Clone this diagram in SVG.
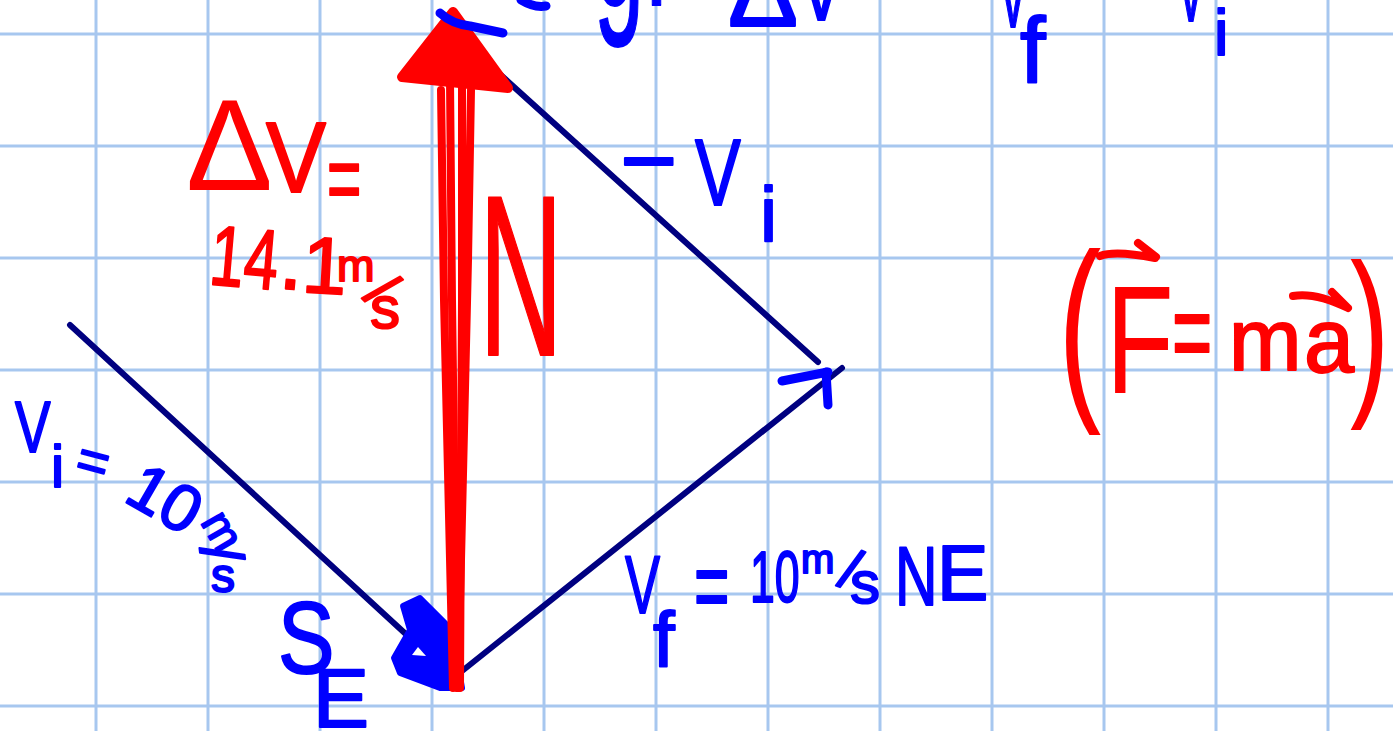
<svg xmlns="http://www.w3.org/2000/svg" width="1393" height="731" viewBox="0 0 1393 731">
  <style>
    .grid line { stroke: #a7c7ef; stroke-width: 3; }
    .navy { stroke: #000080; stroke-width: 6; stroke-linecap: round; fill: none; }
    .rs { stroke: #ff0000; stroke-width: 8; stroke-linecap: round; stroke-linejoin: round; fill: none; }
    .bs { stroke: #0000ff; stroke-width: 9; stroke-linecap: round; stroke-linejoin: round; fill: none; }
    text { font-family: "Liberation Sans", Arial, sans-serif; stroke-linejoin: round; }
    .r { fill: #ff0000; stroke: #ff0000; stroke-width: 2; }
    .b { fill: #0000ff; stroke: #0000ff; stroke-width: 2; }
    .big { stroke-width: 0; }
  </style>
  <rect width="1393" height="731" fill="#ffffff"/>
  <g id="grid" class="grid">
    <line x1="96" y1="0" x2="96" y2="731"/>
    <line x1="208" y1="0" x2="208" y2="731"/>
    <line x1="320" y1="0" x2="320" y2="731"/>
    <line x1="432" y1="0" x2="432" y2="731"/>
    <line x1="544" y1="0" x2="544" y2="731"/>
    <line x1="656" y1="0" x2="656" y2="731"/>
    <line x1="768" y1="0" x2="768" y2="731"/>
    <line x1="880" y1="0" x2="880" y2="731"/>
    <line x1="992" y1="0" x2="992" y2="731"/>
    <line x1="1104" y1="0" x2="1104" y2="731"/>
    <line x1="1216" y1="0" x2="1216" y2="731"/>
    <line x1="1328" y1="0" x2="1328" y2="731"/>
    <line x1="0" y1="34" x2="1393" y2="34"/>
    <line x1="0" y1="146" x2="1393" y2="146"/>
    <line x1="0" y1="258" x2="1393" y2="258"/>
    <line x1="0" y1="370" x2="1393" y2="370"/>
    <line x1="0" y1="482" x2="1393" y2="482"/>
    <line x1="0" y1="594" x2="1393" y2="594"/>
    <line x1="0" y1="706" x2="1393" y2="706"/>
  </g>

  <g id="connectors">
    <path id="vi-line" class="navy" d="M70,325 L434,660"/>
    <path id="vf-line" class="navy" d="M442,687 L842,368"/>
    <path id="neg-vi-line" class="navy" d="M462,40 L818,362"/>
    <g id="vf-head">
      <path class="bs" d="M782,381 L828,372" stroke-width="10"/>
      <path class="bs" d="M826,372 L828,405" stroke-width="8"/>
    </g>
    <g id="vi-head">
      <path d="M420,598 L452,630 L462,688 L440,688 L400,673 L394,658 L410,630 L403,606 Z" fill="#0000ff" stroke="#0000ff" stroke-width="6" stroke-linejoin="round"/>
      <path d="M412,655 L418,647 L426,656 Z" fill="#ffffff"/>
    </g>
    <g id="dv-arrow">
      <path class="rs" d="M453,688 L444,300 L441,90"/>
      <path class="rs" d="M457,688 L452,300 L450,80"/>
      <path class="rs" d="M460,688 L462,300 L462,85"/>
      <path class="rs" d="M458,688 L468,260 L471,90"/>
      <path d="M453,12 L402,77 L508,88 Z" fill="#ff0000" stroke="#ff0000" stroke-width="10" stroke-linejoin="round"/>
    </g>
  </g>

  <g id="top-equation">
    <path class="bs" d="M440,13 Q452,24 470,26 L503,33"/>
    <path class="bs" d="M521,0 Q534,8 546,6" stroke-width="8"/>
    <text class="b" transform="translate(594,5) scale(0.45,1)" font-size="200">g:</text>
    <text class="b" x="728" y="26" font-size="105">Δ</text>
    <text class="b" transform="translate(798,20) scale(0.7,1)" font-size="100">V</text>
    <text class="b" transform="translate(998,27) scale(0.45,1)" font-size="100">V</text>
    <text class="b" x="1020" y="82" font-size="92">f</text>
    <text class="b" transform="translate(1176,21) scale(0.45,1)" font-size="100">V</text>
    <text class="b" x="1214" y="55" font-size="65">i</text>
  </g>

  <g id="label-dv">
    <text class="r big" x="186" y="190" font-size="130">Δ</text>
    <text class="r" transform="translate(266,192) scale(0.9,1)" font-size="100">V</text>
    <text class="r" transform="translate(327,211) scale(0.62,1)" font-size="95">=</text>
    <text class="r" transform="translate(208,284) rotate(5) scale(0.72,1)" font-size="85">14</text>
    <text class="r" transform="translate(278,288) rotate(5)" font-size="85">.</text>
    <text class="r" transform="translate(301,292) rotate(3)" font-size="80">1</text>
    <text class="r" x="337" y="281" font-size="45">m</text>
    <text class="r" transform="translate(362,298) rotate(45)" font-size="58">/</text>
    <text class="r" x="370" y="328" font-size="60">s</text>
  </g>

  <g id="label-n">
    <text class="r" transform="translate(479,355) scale(0.51,1)" font-size="228">N</text>
  </g>

  <g id="label-neg-vi">
    <text class="b" x="620" y="194" font-size="98">−</text>
    <text class="b" transform="translate(695,205) scale(0.73,1)" font-size="94">V</text>
    <text class="b" x="760" y="242" font-size="77">i</text>
  </g>

  <g id="label-vi">
    <text class="b" transform="translate(15,452) scale(0.73,1)" font-size="73">V</text>
    <text class="b" x="51" y="487" font-size="59">i</text>
    <text class="b" transform="translate(73,475) rotate(15)" font-size="55">=</text>
    <text class="b" transform="translate(122,500) rotate(30)" font-size="66">10</text>
    <text class="b" transform="translate(200,522) rotate(60)" font-size="45">m</text>
    <text class="b" transform="translate(200,548) rotate(83)" font-size="60">/</text>
    <text class="b" x="211" y="592" font-size="48">s</text>
  </g>

  <g id="label-vf">
    <text class="b" transform="translate(625,613) scale(0.65,1)" font-size="81">V</text>
    <text class="b" x="653" y="667" font-size="78">f</text>
    <text class="b" transform="translate(694,620) scale(0.62,1)" font-size="98">=</text>
    <text class="b" transform="translate(750,602) scale(0.62,1)" font-size="72">10</text>
    <text class="b" x="801" y="573" font-size="40">m</text>
    <text class="b" transform="translate(836,585) rotate(21)" font-size="57">/</text>
    <text class="b" x="850" y="603" font-size="60">s</text>
    <text class="b" transform="translate(895,605) scale(0.7,1)" font-size="84">N</text>
    <text class="b" x="937" y="600" font-size="77">E</text>
  </g>

  <g id="label-se">
    <text class="b" transform="translate(278,673) scale(0.83,1)" font-size="102">S</text>
    <text class="b" x="313" y="727" font-size="84">E</text>
  </g>

  <g id="label-fma">
    <text class="r big" transform="translate(1058,393) scale(0.65,1)" font-size="200">(</text>
    <text class="r big" transform="translate(1106,393) scale(0.72,1)" font-size="154">F</text>
    <path class="rs" d="M1100,256 Q1115,250 1155,258 M1138,243 L1156,257"/>
    <text class="r" transform="translate(1172,371) scale(0.6,1)" font-size="115">=</text>
    <text class="r" x="1229" y="370" font-size="87">m</text>
    <text class="r" x="1304" y="372" font-size="90">a</text>
    <path class="rs" d="M1293,296 Q1315,292 1348,308 M1332,292 L1348,308"/>
    <text class="r big" transform="translate(1350,392) scale(0.65,1)" font-size="183">)</text>
  </g>
</svg>
